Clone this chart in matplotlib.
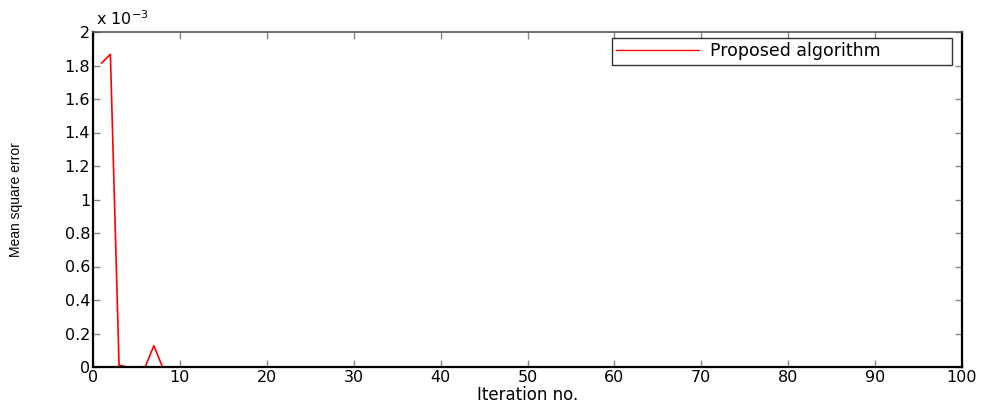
import matplotlib
matplotlib.use("Agg")
from matplotlib import pyplot as plt
from matplotlib.ticker import FuncFormatter, MultipleLocator

# Mean square error per iteration
iterations = list(range(1, 101))
mse = [
    1.815e-3, 1.867e-3, 0.010e-3, 0.0, 0.0, 0.0, 0.127e-3, 0.0, 0.0, 0.0,
    0.0, 0.0, 0.0, 0.0, 0.0, 0.0, 0.0, 0.0, 0.0, 0.0,
    0.0, 0.0, 0.0, 0.0, 0.0, 0.0, 0.0, 0.0, 0.0, 0.0,
    0.0, 0.0, 0.0, 0.0, 0.0, 0.0, 0.0, 0.0, 0.0, 0.0,
    0.0, 0.0, 0.0, 0.0, 0.0, 0.0, 0.0, 0.0, 0.0, 0.0,
    0.0, 0.0, 0.0, 0.0, 0.0, 0.0, 0.0, 0.0, 0.0, 0.0,
    0.0, 0.0, 0.0, 0.0, 0.0, 0.0, 0.0, 0.0, 0.0, 0.0,
    0.0, 0.0, 0.0, 0.0, 0.0, 0.0, 0.0, 0.0, 0.0, 0.0,
    0.0, 0.0, 0.0, 0.0, 0.0, 0.0, 0.0, 0.0, 0.0, 0.0,
    0.0, 0.0, 0.0, 0.0, 0.0, 0.0, 0.0, 0.0, 0.0, 0.0,
]

plt.rcParams['font.family'] = ['DejaVu Sans']

fig = plt.figure(dpi=100, figsize=(9.84, 4.05))
ax = fig.add_axes([93 / 984, 1 - 367 / 405, (962 - 93) / 984, (367 - 32) / 405])

ax.plot(iterations, mse, c='red', lw=1.2, label='Proposed algorithm')

ax.set_xlim(0, 100)
ax.set_ylim(0, 2e-3)
ax.xaxis.set_major_locator(MultipleLocator(10))
ax.yaxis.set_major_locator(MultipleLocator(0.2e-3))
ax.yaxis.set_major_formatter(FuncFormatter(lambda v, p: '%g' % round(v * 1e3, 1)))

ax.tick_params(axis='both', which='major', direction='in', length=5, width=1,
               color='#888888', labelsize=11.5, top=True, right=True, pad=2)
for side in ['left', 'right', 'bottom']:
    ax.spines[side].set_linewidth(1.6)
    ax.spines[side].set_color('black')
ax.spines['top'].set_linewidth(1.2)
ax.spines['top'].set_color('#555555')

ax.text(0.003, 1.012, 'x 10$^{-3}$', transform=ax.transAxes, fontsize=11.5,
        ha='left', va='bottom')

ax.set_xlabel('Iteration no.', fontsize=12, labelpad=1)
ax.set_ylabel('Mean square error', fontsize=10, labelpad=30,
              family=['Liberation Sans Narrow', 'Liberation Sans'])

# legend box stretched to the width seen in the reference
leg = ax.legend(loc='upper left', bbox_to_anchor=(0.597, 0.90, 0.391, 0.082),
                mode='expand', fontsize=12.5, frameon=True, fancybox=False,
                borderaxespad=0, handlelength=4.8, handletextpad=0.6,
                borderpad=0.25)
leg.get_frame().set_edgecolor('black')
leg.get_frame().set_linewidth(1)
leg.get_lines()[0].set_linewidth(1.0)

plt.savefig('out.png', dpi=100)
